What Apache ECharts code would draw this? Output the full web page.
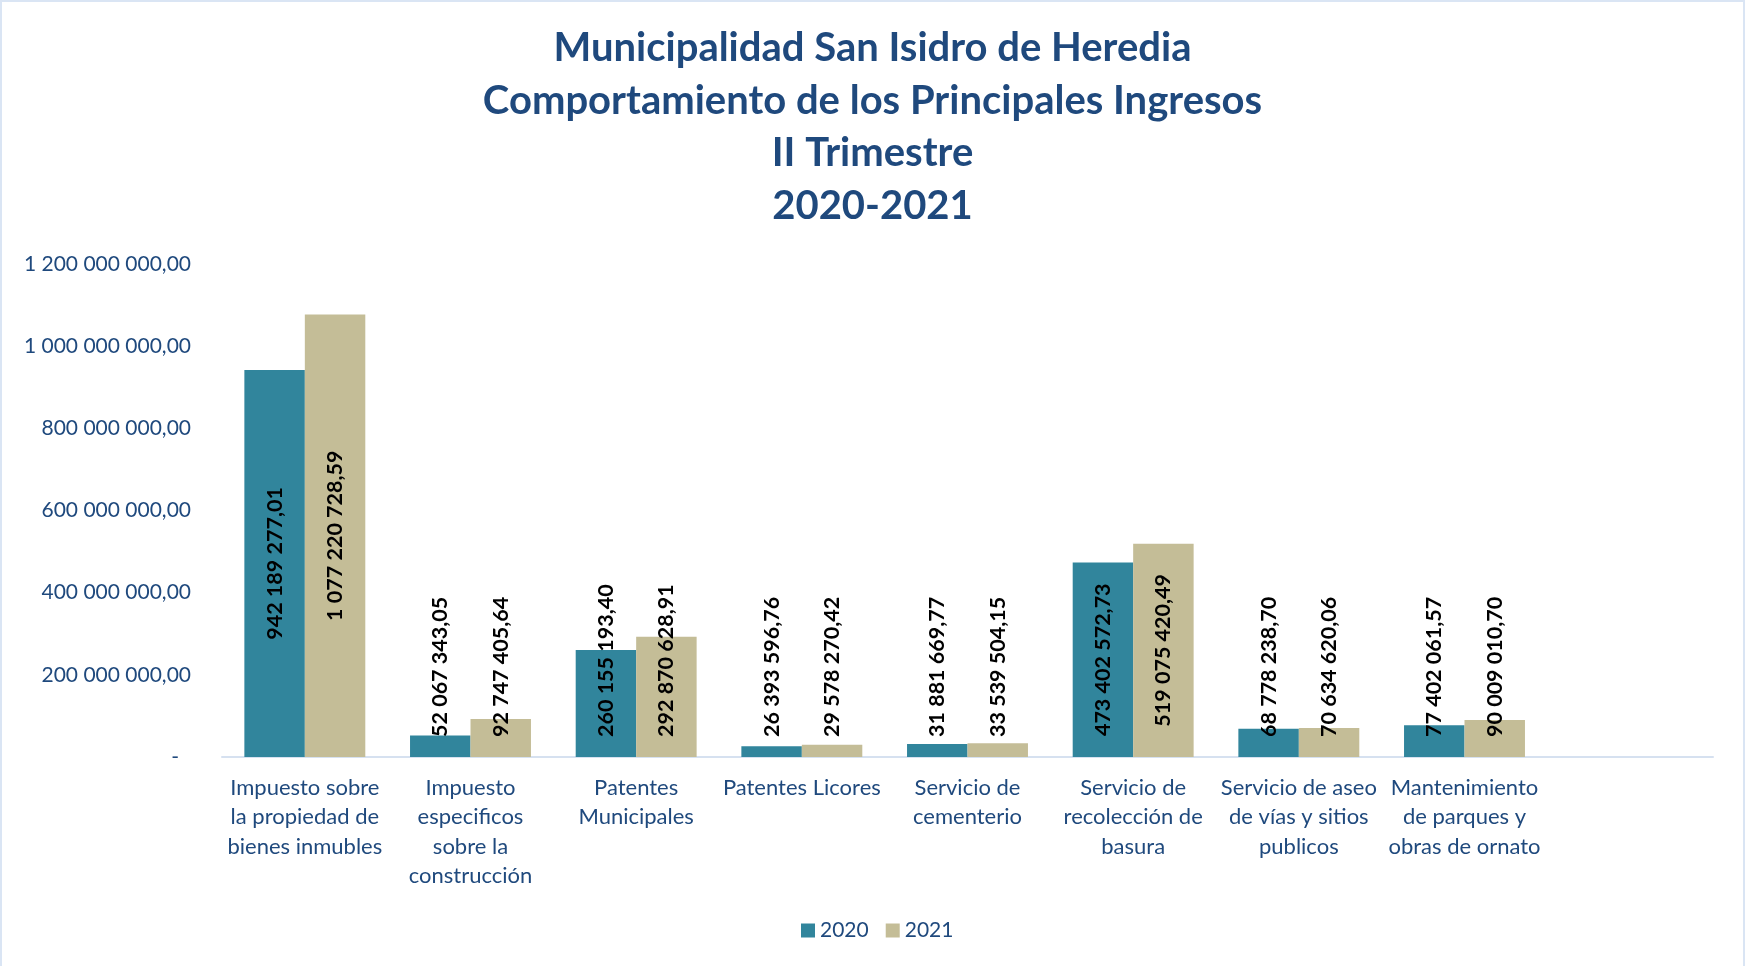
<!DOCTYPE html>
<html>
<head>
<meta charset="utf-8">
<script src="https://cdn.jsdelivr.net/npm/echarts@6/dist/echarts.min.js"></script>
<style>
  html, body { margin: 0; padding: 0; background: #fff; }
  #main { width: 1745px; height: 966px; box-sizing: border-box; border: 2px solid #dae5f4; border-bottom: none; }
</style>
</head>
<body>
<div id="main"></div>
<script>
const titleLines = [
  'Municipalidad San Isidro de Heredia',
  'Comportamiento de los Principales Ingresos',
  'II Trimestre',
  '2020-2021'
];
const categories = [
  'Impuesto sobre\nla propiedad de\nbienes inmubles',
  'Impuesto\nespecificos\nsobre la\nconstrucción',
  'Patentes\nMunicipales',
  'Patentes Licores',
  'Servicio de\ncementerio',
  'Servicio de\nrecolección de\nbasura',
  'Servicio de aseo\nde vías y sitios\npublicos',
  'Mantenimiento\nde parques y\nobras de ornato',
  ''
];
const years = ['2020', '2021'];
const values2020 = [942189277.01, 52067343.05, 260155193.40, 26393596.76, 31881669.77, 473402572.73, 68778238.70, 77402061.57];
const values2021 = [1077220728.59, 92747405.64, 292870628.91, 29578270.42, 33539504.15, 519075420.49, 70634620.06, 90009010.70];
const yTicks = [0, 200000000, 400000000, 600000000, 800000000, 1000000000, 1200000000];

const textBlue = '#1F497D';
const colors = ['#31859C', '#C4BD97'];
const labelFont = 'bold 21.5px Lato';

function fmt(v) {
  const parts = v.toFixed(2).split('.');
  return parts[0].replace(/\B(?=(\d{3})+(?!\d))/g, ' ') + ',' + parts[1];
}

const chart = echarts.init(document.getElementById('main'), null, { renderer: 'canvas' });

function seriesFor(name, values, labels) {
  return {
    name: name,
    type: 'bar',
    barGap: '0%',
    barCategoryGap: '27%',
    data: values.map((v, i) => ({ value: v, label: labels ? labels[i] : undefined })),
    label: {
      show: true,
      rotate: 90,
      position: 'inside',
      color: '#000',
      fontFamily: 'Lato',
      fontWeight: 'bold',
      fontSize: 21.5,
      formatter: (p) => fmt(p.value)
    }
  };
}

chart.setOption({
  animation: false,
  color: colors,
  title: {
    text: titleLines.join('\n'),
    left: 'center',
    top: 15,
    textStyle: {
      color: textBlue,
      fontFamily: 'Lato',
      fontWeight: 'bold',
      fontSize: 40,
      lineHeight: 52.5
    }
  },
  legend: {
    data: years,
    bottom: 20,
    left: 794,
    icon: 'rect',
    itemWidth: 14,
    itemHeight: 14,
    itemGap: 17,
    textStyle: { color: textBlue, fontFamily: 'Lato', fontSize: 21 }
  },
  grid: { left: 220, right: 30, top: 262, bottom: 209 },
  xAxis: {
    type: 'category',
    data: categories,
    axisLine: { lineStyle: { color: '#D6E1F0', width: 2 } },
    axisTick: { show: false },
    axisLabel: {
      interval: 0,
      margin: 16,
      color: textBlue,
      fontFamily: 'Lato',
      fontSize: 22,
      lineHeight: 29.5,
      verticalAlign: 'top'
    }
  },
  yAxis: {
    type: 'value',
    min: yTicks[0],
    max: yTicks[yTicks.length - 1],
    interval: yTicks[1] - yTicks[0],
    splitLine: { show: false },
    axisLine: { show: false },
    axisTick: { show: false },
    axisLabel: {
      margin: 31,
      color: textBlue,
      fontFamily: 'Lato',
      fontSize: 21,
      formatter: (v) => v === 0 ? '{dash|-}' : fmt(v),
      rich: {
        dash: { color: textBlue, fontFamily: 'Lato', fontSize: 21, padding: [0, 12, 0, 0] }
      }
    }
  },
  series: [seriesFor(years[0], values2020), seriesFor(years[1], values2021)]
});

// Excel keeps a centered label inside the plot: if it would run past the axis,
// it is pushed up to sit just above the baseline.
const ctx = document.createElement('canvas').getContext('2d');
ctx.font = labelFont;
const base = chart.convertToPixel({ yAxisIndex: 0 }, 0);
const pad = 20;
function placeLabels(values) {
  return values.map((v) => {
    const top = chart.convertToPixel({ yAxisIndex: 0 }, v);
    const mid = (top + base) / 2;
    const w = ctx.measureText(fmt(v)).width;
    if (mid + w / 2 > base - pad) {
      return { position: 'insideBottom', distance: pad, align: 'left', verticalAlign: 'middle' };
    }
    return { position: 'inside', align: 'center', verticalAlign: 'middle' };
  });
}
chart.setOption({
  series: [
    seriesFor(years[0], values2020, placeLabels(values2020)),
    seriesFor(years[1], values2021, placeLabels(values2021))
  ]
});
</script>
</body>
</html>
